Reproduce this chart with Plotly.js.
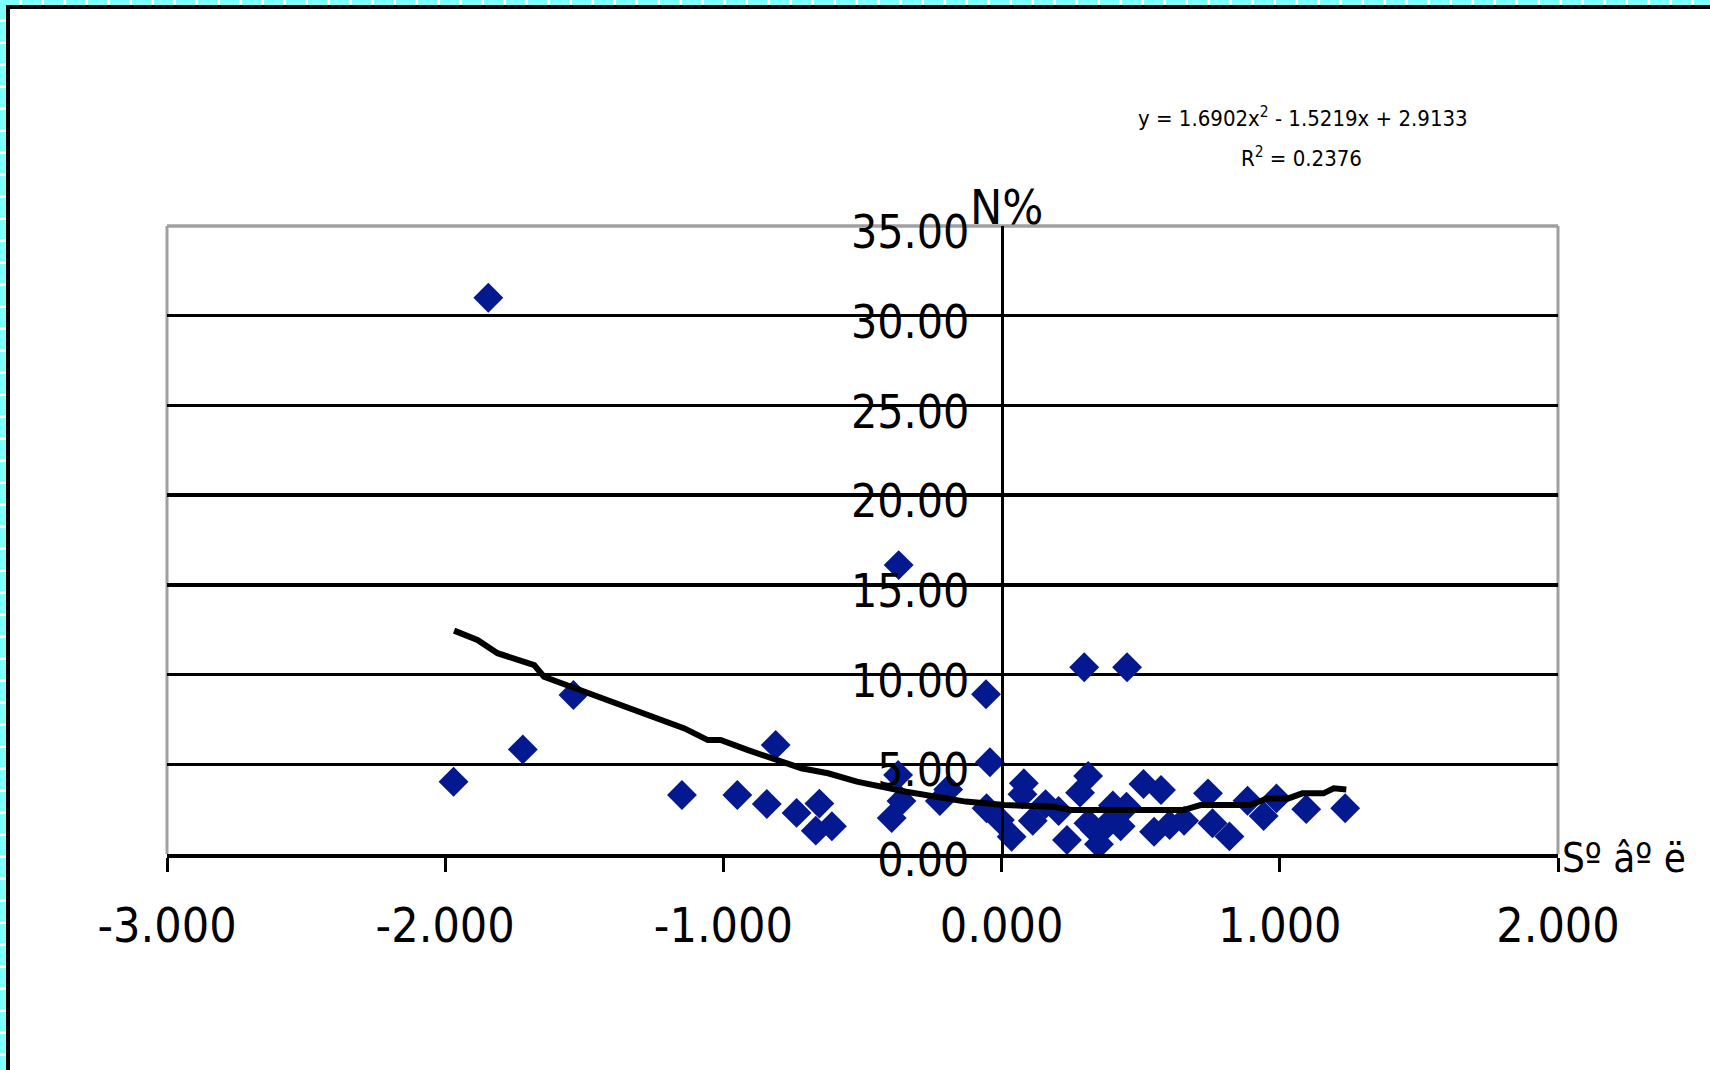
<!DOCTYPE html>
<html>
<head>
<meta charset="utf-8">
<script src="https://cdn.plot.ly/plotly-3.0.1.min.js"></script>
<style>
  html, body { margin: 0; padding: 0; background: #fff; }
  #wrap { position: relative; width: 1710px; height: 1070px; overflow: hidden; }
  #chart { position: absolute; left: 0; top: 0; width: 1710px; height: 1070px; }
  .deco { position: absolute; pointer-events: none; }
  #cyanTop { left: 0; top: 0; width: 1710px; height: 5px;
    background: repeating-linear-gradient(to right, #80ffff 0 19px, #ffffff 19px 22px); }
  #cyanLeft { left: 0; top: 0; width: 6px; height: 1070px;
    background: repeating-linear-gradient(to bottom, #80ffff 0 19px, #ffffff 19px 22px); }
  #blackTop { left: 6px; top: 5px; width: 1704px; height: 4px; background: #000; }
  #blackLeft { left: 6px; top: 5px; width: 4px; height: 1065px; background: #000; }
</style>
</head>
<body>
<div id="wrap">
  <div id="chart"></div>
  <div class="deco" id="cyanTop"></div>
  <div class="deco" id="cyanLeft"></div>
  <div class="deco" id="blackTop"></div>
  <div class="deco" id="blackLeft"></div>
</div>
<script>
// ---- data ----
const pointX = [-1.970, -1.845, -1.721, -1.539, -1.149, -0.950, -0.844, -0.812, -0.737, -0.655,
                -0.668, -0.610, -0.370, -0.372, -0.360, -0.395, -0.192, -0.222, -0.056, -0.042,
                -0.054, -0.006, 0.036, 0.080, 0.075, 0.112, 0.158, 0.205, 0.235, 0.297,
                0.451, 0.311, 0.282, 0.312, 0.335, 0.350, 0.400, 0.449, 0.372, 0.428,
                0.510, 0.573, 0.548, 0.604, 0.656, 0.742, 0.758, 0.819, 0.884, 0.942,
                0.988, 1.095, 1.235];
const pointY = [4.03, 31.0, 5.83, 8.86, 3.29, 3.29, 2.79, 6.08, 2.29, 2.81,
                1.30, 1.55, 16.1, 4.40, 2.95, 2.00, 3.60, 2.95, 8.90, 5.11,
                2.55, 1.90, 0.96, 3.94, 3.33, 1.85, 2.78, 2.40, 0.78, 10.41,
                10.41, 4.35, 3.42, 1.71, 1.34, 0.55, 2.70, 2.64, 1.52, 1.55,
                3.90, 3.57, 1.24, 1.62, 1.85, 3.38, 1.71, 0.98, 2.97, 2.12,
                3.10, 2.50, 2.55];

// polynomial trendline as drawn in the picture
const trendX = [-1.968, -1.884, -1.812, -1.680, -1.645, -1.512, -1.416, -1.260, -1.140, -1.056,
                -1.010, -0.914, -0.720, -0.624, -0.520, -0.343, -0.230, -0.129, 0.010, 0.186,
                0.249, 0.653, 0.715, 0.892, 0.955, 1.031, 1.081, 1.157, 1.194, 1.239];
const trendY = [12.45, 11.93, 11.19, 10.53, 9.88, 9.14, 8.58, 7.65, 7.00, 6.35,
                6.35, 5.80, 4.78, 4.50, 4.03, 3.47, 3.19, 2.92, 2.73, 2.64,
                2.45, 2.45, 2.73, 2.73, 3.10, 3.10, 3.38, 3.38, 3.66, 3.60];

const xTickVals = [-3, -2, -1, 0, 1, 2];
const xTickLabels = ['-3.000', '-2.000', '-1.000', '0.000', '1.000', '2.000'];
const yTickVals = [0, 5, 10, 15, 20, 25, 30, 35];
const yTickLabels = ['0.00', '5.00', '10.00', '15.00', '20.00', '25.00', '30.00', '35.00'];
const equationText = 'y = 1.6902x<sup>2</sup> - 1.5219x + 2.9133';
const r2Text = 'R<sup>2</sup> = 0.2376';
const yTitle = 'N%';
const xTitle = 'S\u00ba \u00e2\u00ba \u00eb';

// ---- drawing ----
const FONT = "'Liberation Sans Narrow', 'DejaVu Sans Condensed', 'Arial Narrow', Arial, sans-serif";
const W = 1710, H = 1070;
const M = {l: 167, r: 152, t: 226, b: 216};
const pw = W - M.l - M.r, ph = H - M.t - M.b;
const px2x = p => (p - M.l) / pw;
const py2y = p => (H - M.b - p) / ph;

const traces = [
  {
    type: 'scatter', mode: 'markers', x: pointX, y: pointY,
    marker: {symbol: 'diamond', size: 23, color: '#04188F', line: {width: 0}},
    hoverinfo: 'x+y', showlegend: false
  },
  {
    type: 'scatter', mode: 'lines', x: trendX, y: trendY,
    line: {color: '#000000', width: 6},
    hoverinfo: 'skip', showlegend: false
  }
];

const layout = {
  width: W, height: H,
  margin: M,
  paper_bgcolor: '#ffffff', plot_bgcolor: '#ffffff',
  font: {family: FONT, color: '#000000'},
  showlegend: false,
  xaxis: {
    range: [-3, 2], domain: [0, 1],
    tickmode: 'array', tickvals: xTickVals, ticktext: xTickLabels,
    showgrid: false, zeroline: false,
    showline: true, linecolor: '#000000', linewidth: 4,
    ticks: 'outside', ticklen: 14, tickwidth: 3, tickcolor: '#000000',
    tickfont: {family: FONT, size: 48, color: '#000000'},
    ticklabelstandoff: 12,
    fixedrange: true
  },
  yaxis: {
    range: [0, 35], domain: [0, 1],
    anchor: 'free', position: 0.6,
    tickmode: 'array', tickvals: yTickVals, ticktext: yTickLabels,
    showgrid: true, gridcolor: '#000000', gridwidth: 3.5,
    zeroline: false,
    showline: true, linecolor: '#000000', linewidth: 3,
    ticks: '',
    tickfont: {family: FONT, size: 46, color: '#000000'},
    ticklabelstandoff: 22,
    ticklabelshift: 6,
    fixedrange: true
  },
  shapes: [
    {type: 'line', xref: 'paper', yref: 'paper', x0: 0, x1: 1, y0: 1, y1: 1,
     line: {color: '#a0a0a0', width: 3.5}, layer: 'between'},
    {type: 'line', xref: 'paper', yref: 'paper', x0: 0, x1: 0, y0: 0, y1: 1,
     line: {color: '#a0a0a0', width: 3}, layer: 'between'},
    {type: 'line', xref: 'paper', yref: 'paper', x0: 1, x1: 1, y0: 0, y1: 1,
     line: {color: '#a0a0a0', width: 3}, layer: 'between'}
  ],
  annotations: [
    {text: equationText, xref: 'paper', yref: 'paper', x: px2x(1136), y: py2y(117),
     xanchor: 'left', yanchor: 'middle', showarrow: false,
     font: {family: FONT, size: 22, color: '#000000'}},
    {text: r2Text, xref: 'paper', yref: 'paper', x: px2x(1301), y: py2y(157),
     xanchor: 'center', yanchor: 'middle', showarrow: false,
     font: {family: FONT, size: 22, color: '#000000'}},
    {text: yTitle, xref: 'paper', yref: 'paper', x: px2x(968), y: py2y(207),
     xanchor: 'left', yanchor: 'middle', showarrow: false,
     font: {family: FONT, size: 48, color: '#000000'}},
    {text: xTitle, xref: 'paper', yref: 'paper', x: px2x(1560), y: py2y(858),
     xanchor: 'left', yanchor: 'middle', showarrow: false,
     font: {family: FONT, size: 40, color: '#000000'}}
  ]
};

Plotly.newPlot('chart', traces, layout, {staticPlot: true, displayModeBar: false});
</script>
</body>
</html>
